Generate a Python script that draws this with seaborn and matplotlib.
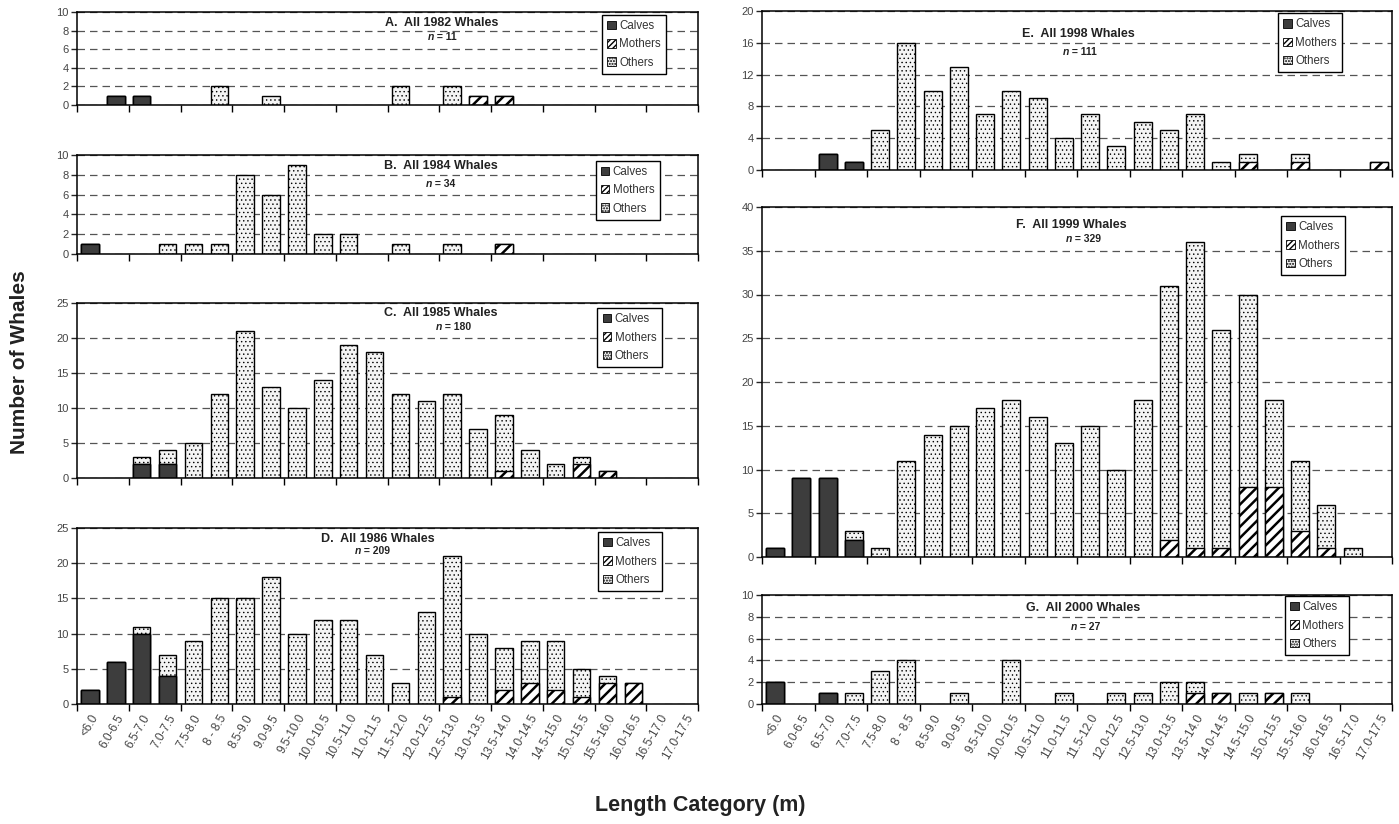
import numpy as np
import matplotlib
matplotlib.use("Agg")
import matplotlib.pyplot as plt
import seaborn as sns
from matplotlib.patches import Patch

# ---------------------------------------------------------------- data
categories = ["<6.0", "6.0-6.5", "6.5-7.0", "7.0-7.5", "7.5-8.0", "8 - 8.5",
              "8.5-9.0", "9.0-9.5", "9.5-10.0", "10.0-10.5", "10.5-11.0",
              "11.0-11.5", "11.5-12.0", "12.0-12.5", "12.5-13.0", "13.0-13.5",
              "13.5-14.0", "14.0-14.5", "14.5-15.0", "15.0-15.5", "15.5-16.0",
              "16.0-16.5", "16.5-17.0", "17.0-17.5"]

calves_1982 = [0, 1, 1, 0, 0, 0, 0, 0, 0, 0, 0, 0, 0, 0, 0, 0, 0, 0, 0, 0, 0, 0, 0, 0]
mothers_1982 = [0, 0, 0, 0, 0, 0, 0, 0, 0, 0, 0, 0, 0, 0, 0, 1, 1, 0, 0, 0, 0, 0, 0, 0]
others_1982 = [0, 0, 0, 0, 0, 2, 0, 1, 0, 0, 0, 0, 2, 0, 2, 0, 0, 0, 0, 0, 0, 0, 0, 0]

calves_1984 = [1, 0, 0, 0, 0, 0, 0, 0, 0, 0, 0, 0, 0, 0, 0, 0, 0, 0, 0, 0, 0, 0, 0, 0]
mothers_1984 = [0, 0, 0, 0, 0, 0, 0, 0, 0, 0, 0, 0, 0, 0, 0, 0, 1, 0, 0, 0, 0, 0, 0, 0]
others_1984 = [0, 0, 0, 1, 1, 1, 8, 6, 9, 2, 2, 0, 1, 0, 1, 0, 0, 0, 0, 0, 0, 0, 0, 0]

calves_1985 = [0, 0, 2, 2, 0, 0, 0, 0, 0, 0, 0, 0, 0, 0, 0, 0, 0, 0, 0, 0, 0, 0, 0, 0]
mothers_1985 = [0, 0, 0, 0, 0, 0, 0, 0, 0, 0, 0, 0, 0, 0, 0, 0, 1, 0, 0, 2, 1, 0, 0, 0]
others_1985 = [0, 0, 1, 2, 5, 12, 21, 13, 10, 14, 19, 18, 12, 11, 12, 7, 8, 4, 2, 1, 0, 0, 0, 0]

calves_1986 = [2, 6, 10, 4, 0, 0, 0, 0, 0, 0, 0, 0, 0, 0, 0, 0, 0, 0, 0, 0, 0, 0, 0, 0]
mothers_1986 = [0, 0, 0, 0, 0, 0, 0, 0, 0, 0, 0, 0, 0, 0, 1, 0, 2, 3, 2, 1, 3, 3, 0, 0]
others_1986 = [0, 0, 1, 3, 9, 15, 15, 18, 10, 12, 12, 7, 3, 13, 20, 10, 6, 6, 7, 4, 1, 0, 0, 0]

calves_1998 = [0, 0, 2, 1, 0, 0, 0, 0, 0, 0, 0, 0, 0, 0, 0, 0, 0, 0, 0, 0, 0, 0, 0, 0]
mothers_1998 = [0, 0, 0, 0, 0, 0, 0, 0, 0, 0, 0, 0, 0, 0, 0, 0, 0, 0, 1, 0, 1, 0, 0, 1]
others_1998 = [0, 0, 0, 0, 5, 16, 10, 13, 7, 10, 9, 4, 7, 3, 6, 5, 7, 1, 1, 0, 1, 0, 0, 0]

calves_1999 = [1, 9, 9, 2, 0, 0, 0, 0, 0, 0, 0, 0, 0, 0, 0, 0, 0, 0, 0, 0, 0, 0, 0, 0]
mothers_1999 = [0, 0, 0, 0, 0, 0, 0, 0, 0, 0, 0, 0, 0, 0, 0, 2, 1, 1, 8, 8, 3, 1, 0, 0]
others_1999 = [0, 0, 0, 1, 1, 11, 14, 15, 17, 18, 16, 13, 15, 10, 18, 29, 35, 25, 22, 10, 8, 5, 1, 0]

calves_2000 = [2, 0, 1, 0, 0, 0, 0, 0, 0, 0, 0, 0, 0, 0, 0, 0, 0, 0, 0, 0, 0, 0, 0, 0]
mothers_2000 = [0, 0, 0, 0, 0, 0, 0, 0, 0, 0, 0, 0, 0, 0, 0, 0, 1, 1, 0, 1, 0, 0, 0, 0]
others_2000 = [0, 0, 0, 1, 3, 4, 0, 1, 0, 4, 0, 1, 0, 1, 1, 2, 1, 0, 1, 0, 1, 0, 0, 0]

panel_titles = ["A.  All 1982 Whales", "B.  All 1984 Whales", "C.  All 1985 Whales",
                "D.  All 1986 Whales", "E.  All 1998 Whales", "F.  All 1999 Whales",
                "G.  All 2000 Whales"]
panel_n = [11, 34, 180, 209, 111, 329, 27]
series_labels = ["Calves", "Mothers", "Others"]

# ---------------------------------------------------------------- style
sns.set_theme(style="ticks")
plt.rcParams["font.family"] = ["Liberation Sans", "DejaVu Sans"]
plt.rcParams["axes.linewidth"] = 1.1

W, H = 1399, 824
fig = plt.figure(figsize=(W / 100, H / 100), dpi=100)

CALVES = dict(face="#3d3d3d", hatch=None, hlw=0.6, lhatch=None)
MOTHERS = dict(face="white", hatch="///", hlw=1.8, lhatch="//////")
OTHERS = dict(face="#f4f4f4", hatch="....", hlw=0.5, lhatch="......")
STYLES = [CALVES, MOTHERS, OTHERS]

# layout: (left, top, right, bottom) in pixels, y ticks, title/n/legend placement
layout = [
    dict(box=(77, 12, 698, 105), ymax=10, ystep=2, tx=0.588, ty=0.885, ny=0.734, nx=0.575, lx=0.845, ly=0.97, labels=False),
    dict(box=(77, 155, 698, 254), ymax=10, ystep=2, tx=0.586, ty=0.892, ny=0.707, nx=0.572, lx=0.835, ly=0.943, labels=False),
    dict(box=(77, 303, 698, 478), ymax=25, ystep=5, tx=0.586, ty=0.943, ny=0.86, nx=0.588, lx=0.838, ly=0.971, labels=False),
    dict(box=(77, 528, 698, 704), ymax=25, ystep=5, tx=0.485, ty=0.94, ny=0.871, nx=0.457, lx=0.839, ly=0.977, labels=True),
    dict(box=(762, 11, 1392, 170), ymax=20, ystep=4, tx=0.502, ty=0.854, ny=0.74, nx=0.487, lx=0.819, ly=0.986, labels=False),
    dict(box=(762, 207, 1392, 557), ymax=40, ystep=5, tx=0.491, ty=0.948, ny=0.91, nx=0.492, lx=0.824, ly=0.974, labels=False),
    dict(box=(762, 595, 1392, 704), ymax=10, ystep=2, tx=0.51, ty=0.878, ny=0.71, nx=0.50, lx=0.830, ly=0.99, labels=True),
]

series = [
    (calves_1982, mothers_1982, others_1982),
    (calves_1984, mothers_1984, others_1984),
    (calves_1985, mothers_1985, others_1985),
    (calves_1986, mothers_1986, others_1986),
    (calves_1998, mothers_1998, others_1998),
    (calves_1999, mothers_1999, others_1999),
    (calves_2000, mothers_2000, others_2000),
]


def stacked_bars(ax, calves, mothers, others):
    """Stack calves, mothers and others by overdrawing cumulative totals."""
    c, m, o = (np.asarray(v) for v in (calves, mothers, others))
    cats = np.asarray(categories)
    layers = [(c + m + o, OTHERS), (c + m, MOTHERS), (c, CALVES)]
    for heights, st in layers:
        keep = heights > 0
        if not keep.any():
            continue
        with plt.rc_context({"hatch.linewidth": st["hlw"]}):
            sns.barplot(x=cats[keep], y=heights[keep], order=categories, ax=ax,
                        color=st["face"], edgecolor="black", linewidth=1.0,
                        hatch=st["hatch"], width=0.68, saturation=1,
                        errorbar=None)


def legend_handles():
    handles = []
    for st in STYLES:
        with plt.rc_context({"hatch.linewidth": 1.2 if st is MOTHERS else 0.5}):
            handles.append(Patch(facecolor=st["face"], edgecolor="black",
                                 hatch=st["lhatch"], linewidth=0.6))
    return handles


for (calves, mothers, others), lay, title, n in zip(series, layout, panel_titles, panel_n):
    l, t, r, b = lay["box"]
    ax = fig.add_axes([l / W, 1 - b / H, (r - l) / W, (b - t) / H])
    stacked_bars(ax, calves, mothers, others)

    ax.set_xlim(-0.5, len(categories) - 0.5)
    ax.set_ylim(0, lay["ymax"])
    ax.set_yticks(np.arange(0, lay["ymax"] + 0.1, lay["ystep"]))
    ax.set_xlabel("")
    ax.set_ylabel("")

    # tick marks between pairs of categories, labels at category centres
    ax.set_xticks(np.arange(-0.5, len(categories), 2))
    ax.set_xticklabels([])
    ax.set_xticks(np.arange(len(categories)), minor=True)
    if lay["labels"]:
        ax.set_xticklabels(categories, minor=True, rotation=60, ha="right",
                           rotation_mode="anchor", fontsize=8.5, color="#444444")
    else:
        ax.set_xticklabels([], minor=True)
    ax.tick_params(axis="x", which="major", length=5, width=1, direction="out", color="black")
    ax.tick_params(axis="x", which="minor", length=0, pad=6)
    ax.tick_params(axis="y", length=4, width=1, direction="out", labelsize=8,
                   labelcolor="#444444", pad=2)

    for s in ax.spines.values():
        s.set_visible(True)
        s.set_color("black")
        s.set_linewidth(1.1)

    ax.set_axisbelow(True)
    ax.yaxis.grid(True, linestyle=(0, (6, 4)), color="#555555", linewidth=0.9)
    ax.xaxis.grid(False)

    ax.text(lay["tx"], lay["ty"], title, transform=ax.transAxes, ha="center",
            va="center", fontsize=9, fontweight="bold", color="#222222")
    ax.text(lay["nx"], lay["ny"], "n", transform=ax.transAxes, ha="right",
            va="center", fontsize=7.5, fontweight="bold", fontstyle="italic",
            color="#222222")
    ax.text(lay["nx"], lay["ny"], " = %d" % n, transform=ax.transAxes, ha="left",
            va="center", fontsize=7.5, fontweight="bold", color="#222222")

    leg = ax.legend(legend_handles(), series_labels, loc="upper left",
                    bbox_to_anchor=(lay["lx"], lay["ly"]), borderaxespad=0,
                    fontsize=8.3, frameon=True, fancybox=False, framealpha=1,
                    edgecolor="black", handlelength=0.75, handleheight=0.75,
                    handletextpad=0.3, labelspacing=0.55, borderpad=0.45)
    leg.get_frame().set_linewidth(1.0)
    for txt in leg.get_texts():
        txt.set_color("#333333")

fig.text(20 / W, 1 - 362 / H, "Number of Whales", rotation=90, ha="center",
         va="center", fontsize=15, fontweight="bold", color="#222222")
fig.text(700 / W, 1 - 805 / H, "Length Category (m)", ha="center", va="center",
         fontsize=15.5, fontweight="bold", color="#222222")

fig.savefig("out.png", dpi=100, facecolor="white")
